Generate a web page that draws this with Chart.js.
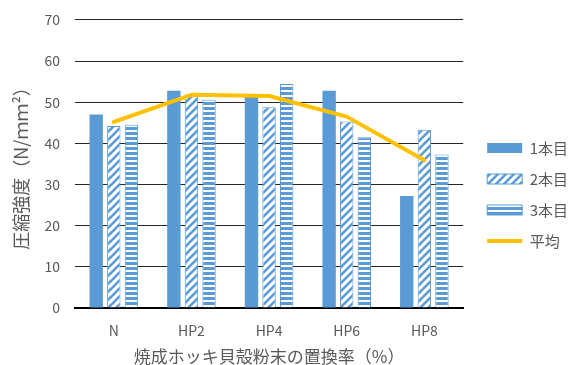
<!DOCTYPE html>
<html>
<head>
<meta charset="utf-8">
<script src="https://cdn.jsdelivr.net/npm/chart.js@4"></script>
<style>
  html, body { margin: 0; padding: 0; background: #fff; }
  #wrap { width: 578px; height: 365px; }
</style>
</head>
<body>
<div id="wrap"><canvas id="strengthChart" width="578" height="365"></canvas></div>
<script>
// compressive strength per specimen, by replacement ratio
const categories = ["N", "HP2", "HP4", "HP6", "HP8"];
const seriesNames = ["1本目", "2本目", "3本目", "平均"];
const first = [47.0, 52.8, 51.4, 52.8, 27.2];
const second = [44.2, 51.9, 48.8, 45.3, 43.3];
const third = [44.5, 50.6, 54.4, 41.5, 37.3];
const average = [45.2, 51.8, 51.5, 46.5, 35.9];
const yTicks = [0, 10, 20, 30, 40, 50, 60, 70];

const BLUE = '#5B9BD5';
const GOLD = '#FFC000';
const TEXT = '#595959';
const FONT = '"Noto Sans CJK JP", "Noto Sans", sans-serif';

// white with blue "/" stripes
function diagonalPattern() {
  const c = document.createElement('canvas');
  c.width = 8; c.height = 8;
  const g = c.getContext('2d');
  g.fillStyle = '#fff';
  g.fillRect(0, 0, 8, 8);
  g.strokeStyle = BLUE;
  g.lineWidth = 2.6;
  g.beginPath();
  g.moveTo(-2, 10); g.lineTo(10, -2);
  g.moveTo(-6, 6); g.lineTo(6, -6);
  g.moveTo(2, 14); g.lineTo(14, 2);
  g.stroke();
  return g.createPattern(c, 'repeat');
}

// blue with thin white horizontal lines
function horizontalPattern() {
  const c = document.createElement('canvas');
  c.width = 4; c.height = 5;
  const g = c.getContext('2d');
  g.fillStyle = BLUE;
  g.fillRect(0, 0, 4, 5);
  g.fillStyle = '#fff';
  g.fillRect(0, 0, 4, 2);
  return g.createPattern(c, 'repeat');
}

const ctx = document.getElementById('strengthChart').getContext('2d');

new Chart(ctx, {
  data: {
    labels: categories,
    datasets: [
      { type: 'bar', label: seriesNames[0], data: first, backgroundColor: BLUE, borderWidth: 0, order: 1 },
      { type: 'bar', label: seriesNames[1], data: second, backgroundColor: diagonalPattern(), borderColor: BLUE, borderWidth: 1, order: 1 },
      { type: 'bar', label: seriesNames[2], data: third, backgroundColor: horizontalPattern(), borderColor: BLUE, borderWidth: 1, order: 1 },
      {
        type: 'line', label: seriesNames[3], data: average,
        borderColor: GOLD, backgroundColor: GOLD, borderWidth: 4,
        borderCapStyle: 'round', borderJoinStyle: 'round',
        pointRadius: 0, tension: 0, order: 0
      }
    ]
  },
  options: {
    responsive: false,
    animation: false,
    datasets: {
      bar: { categoryPercentage: 0.68, barPercentage: 0.76 }
    },
    layout: { padding: { top: 8.6, left: 12, right: 0, bottom: 0 } },
    plugins: {
      tooltip: { enabled: false },
      legend: {
        position: 'right',
        maxWidth: 120,
        // blank title only pushes the entries down a little
        title: { display: true, text: ' ', padding: { top: 3.4, bottom: 0 }, font: { size: 10 } },
        labels: {
          usePointStyle: true,
          pointStyleWidth: 35,
          boxHeight: 10,
          padding: 16,
          color: TEXT,
          font: { family: FONT, size: 15 },
          sort: (a, b) => a.datasetIndex - b.datasetIndex,
          generateLabels(chart) {
            const items = Chart.defaults.plugins.legend.labels.generateLabels(chart);
            items.forEach(it => {
              it.pointStyle = chart.data.datasets[it.datasetIndex].type === 'line' ? 'line' : 'rect';
            });
            return items;
          }
        }
      }
    },
    scales: {
      x: {
        grid: { display: false, drawTicks: false },
        border: { display: true, color: '#000', width: 2 },
        ticks: { color: TEXT, padding: 14, font: { family: FONT, size: 14 } },
        title: {
          display: true, text: '焼成ホッキ貝殻粉末の置換率（%）', color: TEXT,
          font: { family: FONT, size: 17, lineHeight: 1 }, padding: 0
        },
        afterFit(scale) { scale.height = 57; }
      },
      y: {
        min: 0, max: 70,
        afterBuildTicks(axis) { axis.ticks = yTicks.map(v => ({ value: v })); },
        grid: { color: '#262626', lineWidth: 1, drawTicks: false },
        border: { display: false },
        ticks: { color: TEXT, padding: 15, font: { family: FONT, size: 14, lineHeight: 0.7 } },
        title: {
          display: true, text: '圧縮強度（N/ｍｍ²）', color: TEXT,
          font: { family: FONT, size: 18, lineHeight: 1 }, padding: 0
        },
        afterFit(scale) { scale.width = 63; }
      },
      // empty strip between the plot and the legend
      gap: {
        position: 'right',
        display: true,
        grid: { display: false, drawTicks: false },
        border: { display: false },
        ticks: { display: false },
        afterFit(scale) { scale.width = 8; }
      }
    }
  }
});
</script>
</body>
</html>
